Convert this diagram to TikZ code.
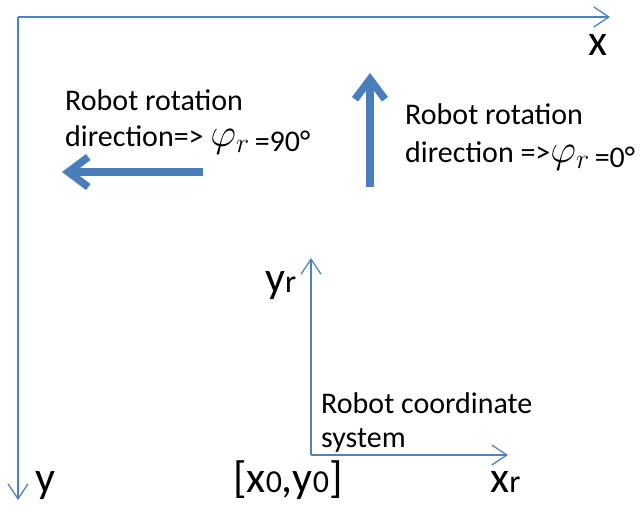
\documentclass[tikz,border=0pt]{standalone}
\usepackage{fix-cm}
\usepackage{fontspec}
\setmainfont{Carlito}
\usetikzlibrary{arrows.meta}
\definecolor{axisblue}{RGB}{79,129,189}
\definecolor{turnblue}{RGB}{74,126,187}
\tikzset{
  thinaxis/.style={axisblue, line width=1.3pt, -{Straight Barb[length=15pt,width=20pt]}},
  turnarrow/.style={turnblue, line width=7.5pt, -{Straight Barb[length=20pt,width=30pt]}},
  smalltxt/.style={inner sep=0pt, anchor=base west, font=\fontsize{30}{34}\selectfont},
  bigtxt/.style={inner sep=0pt, anchor=base west, font=\fontsize{44}{44}\selectfont}
}
\newcommand{\axsub}[1]{{\fontsize{32}{32}\selectfont #1}}
\newcommand{\phir}{{\fontsize{40}{40}\selectfont$\varphi_{r}$}}
\newcommand{\angtxt}[1]{\raisebox{-5pt}{\fontsize{30}{30}\selectfont #1}}

\begin{document}
\begin{tikzpicture}[x=1pt,y=-1pt]
\useasboundingbox (0,0) rectangle (640,504);
% world frame
\coordinate (world) at (18,17);
\coordinate (worldx) at (610,17);
\coordinate (worldy) at (18,500);
\draw[thinaxis] (world) -- (worldx);
\draw[thinaxis] (world) -- (worldy);
\node[bigtxt] (xlabel) at (588,55) {x};
\node[bigtxt] (ylabel) at (35,492) {y};
% robot frame
\coordinate (robot) at (311,455);
\coordinate (robotx) at (508,455);
\coordinate (roboty) at (311,258);
\draw[thinaxis] (robot) -- (robotx);
\draw[thinaxis] (robot) -- (roboty);
\node[bigtxt] (xrlabel) at (490,492) {x\axsub{r}};
\node[bigtxt] (yrlabel) at (265,292) {y\axsub{r}};
\node[bigtxt] (origin) at (233,492) {[x\axsub{0},y\axsub{0}]};
\node[smalltxt] (robotsys) at (321,413) {Robot coordinate};
\node[smalltxt] (robotsys2) at (321,447) {system};
% rotation directions
\coordinate (upfrom) at (370,187);
\coordinate (upto) at (370,73);
\draw[turnarrow] (upfrom) -- (upto);
\coordinate (leftfrom) at (203,172);
\coordinate (leftto) at (62,172);
\draw[turnarrow] (leftfrom) -- (leftto);
\node[smalltxt] (lturn) at (65,110) {Robot rotation};
\node[smalltxt] (lturn2) at (65,146) {direction=> \phir\,\angtxt{=90°}};
\node[smalltxt] (rturn) at (405,124) {Robot rotation};
\node[smalltxt] (rturn2) at (405,162) {direction =>\phir\,\angtxt{=0°}};
\end{tikzpicture}
\end{document}
